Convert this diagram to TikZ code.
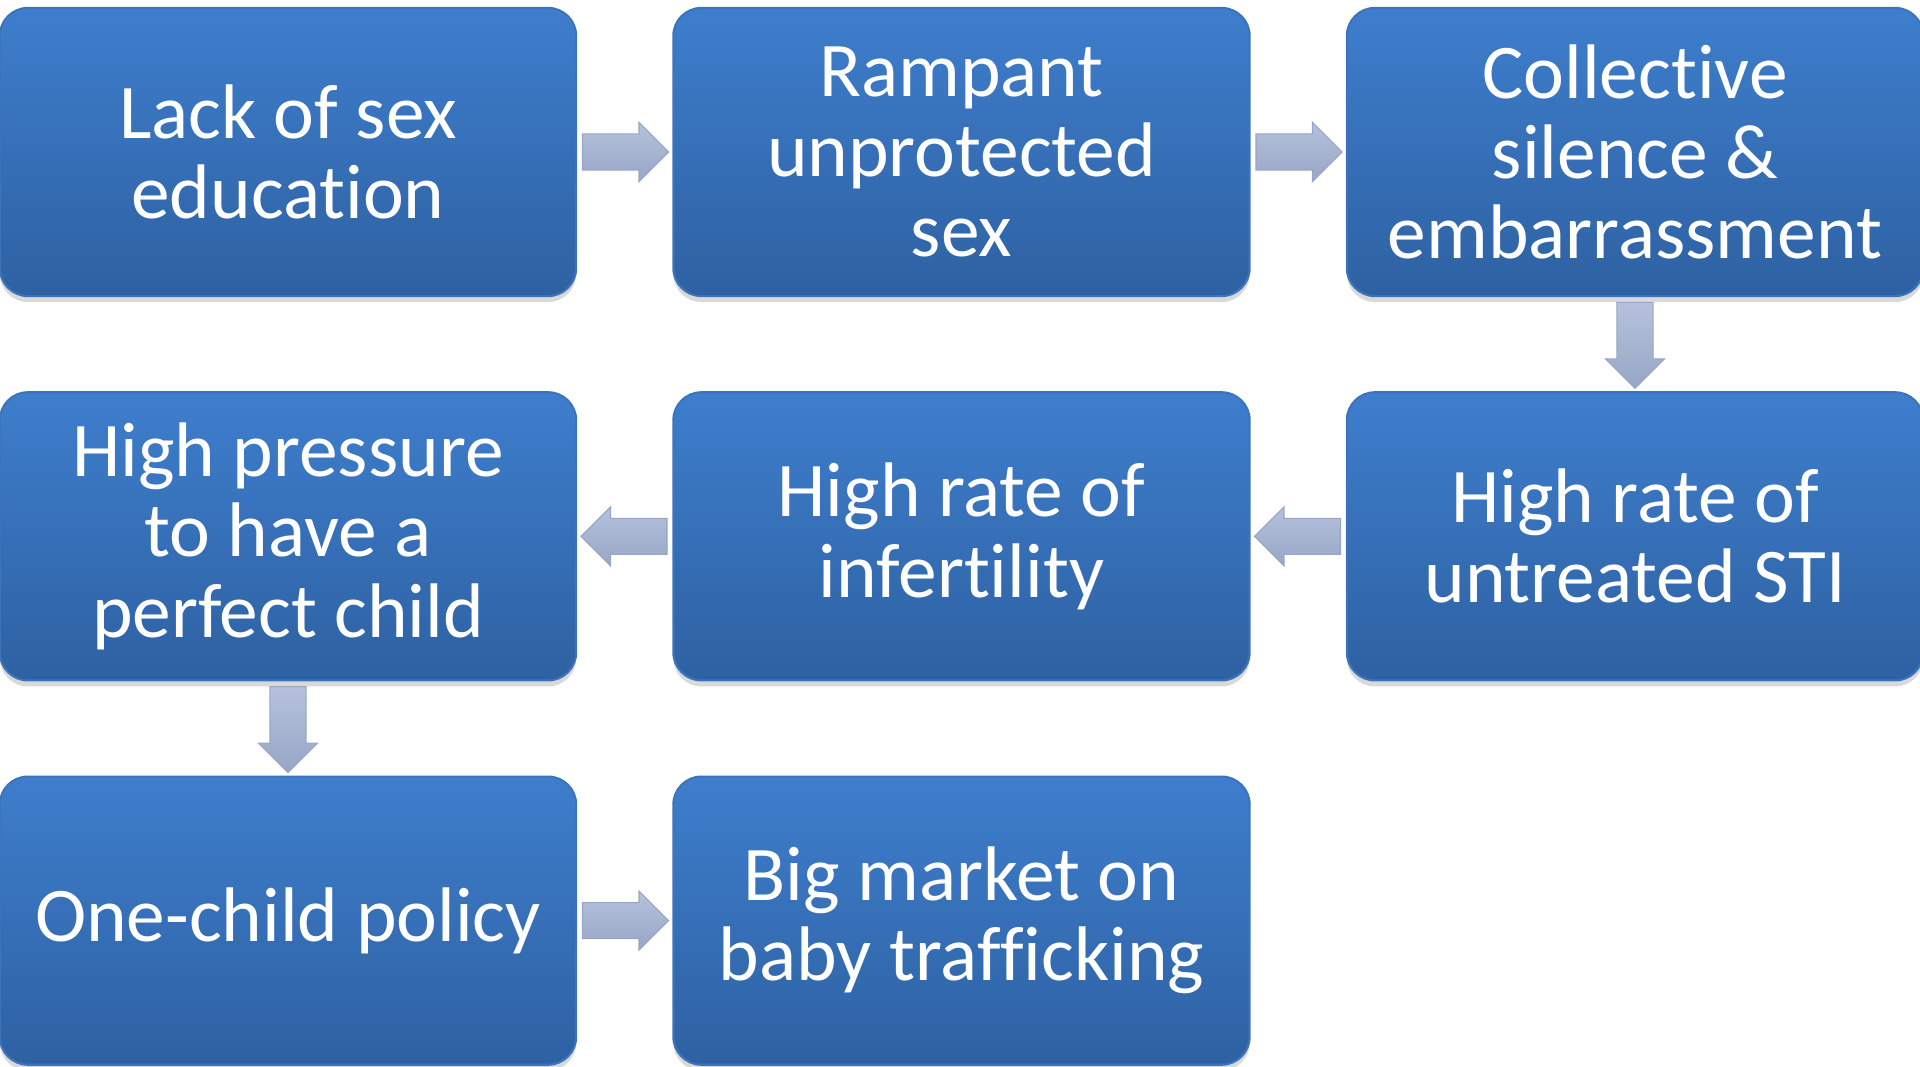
\documentclass[tikz,border=0pt]{standalone}
\usepackage{fontspec}
\setmainfont{Carlito}[Ligatures=NoCommon]
\usetikzlibrary{positioning,shapes.arrows,shadows}

\definecolor{boxtop}{HTML}{3E7ECD}
\definecolor{boxbottom}{HTML}{2E61A2}
\definecolor{boxrim}{HTML}{3C74BC}
\definecolor{arrowtop}{HTML}{B6C2DC}
\definecolor{arrowbottom}{HTML}{97A6C6}

\begin{document}
\begin{tikzpicture}[x=0.01cm,y=-0.01cm,node distance=0.94cm and 0.95cm,
    cause/.style={rectangle,rounded corners=0.28cm,minimum width=5.76cm,minimum height=2.88cm,
        top color=boxtop,bottom color=boxbottom,draw=boxrim,line width=0.6pt,
        drop shadow={shadow xshift=0pt,shadow yshift=-0.06cm,opacity=0.3},
        text=white,align=center,font=\fontsize{22}{22.8}\selectfont},
    flowarrow/.style={single arrow,inner sep=0pt,text height=0.175cm,text depth=0.175cm,
        minimum height=0.86cm,minimum width=0.58cm,
        single arrow head extend=0.115cm,top color=arrowtop,bottom color=arrowbottom,
        draw=arrowbottom,line width=0.3pt,sloped,allow upside down,anchor=tail,pos=0.05}]
            \useasboundingbox (0,0) rectangle (1920,1067);

            \node[cause] (1) at (288,152) {Lack of sex\\education};
            \node[cause] (2) [right = of 1] {Rampant\\unprotected\\sex};
            \node[cause] (3) [right = of 2] {Collective\\silence \&\\embarrassment};
            \node[cause] (6) [below = of 3] {High rate of\\untreated STI};
            \node[cause] (5) [below = of 2] {High rate of\\infertility};
            \node[cause] (4) [below = of 1] {High pressure\\to have a\\perfect child};
            \node[cause] (7) [below = of 4] {One-child policy};
            \node[cause] (8) [right = of 7] {Big market on\\baby trafficking};

            \path[every edge/.style={draw=none},every node/.style={flowarrow}]
                (1) edge node{} (2)
                (2) edge node{} (3)
                (3) edge node{} (6)
                (6) edge node{} (5)
                (5) edge node{} (4)
                (4) edge node{} (7)
                (7) edge node{} (8)
                ;
        \end{tikzpicture}
\end{document}
